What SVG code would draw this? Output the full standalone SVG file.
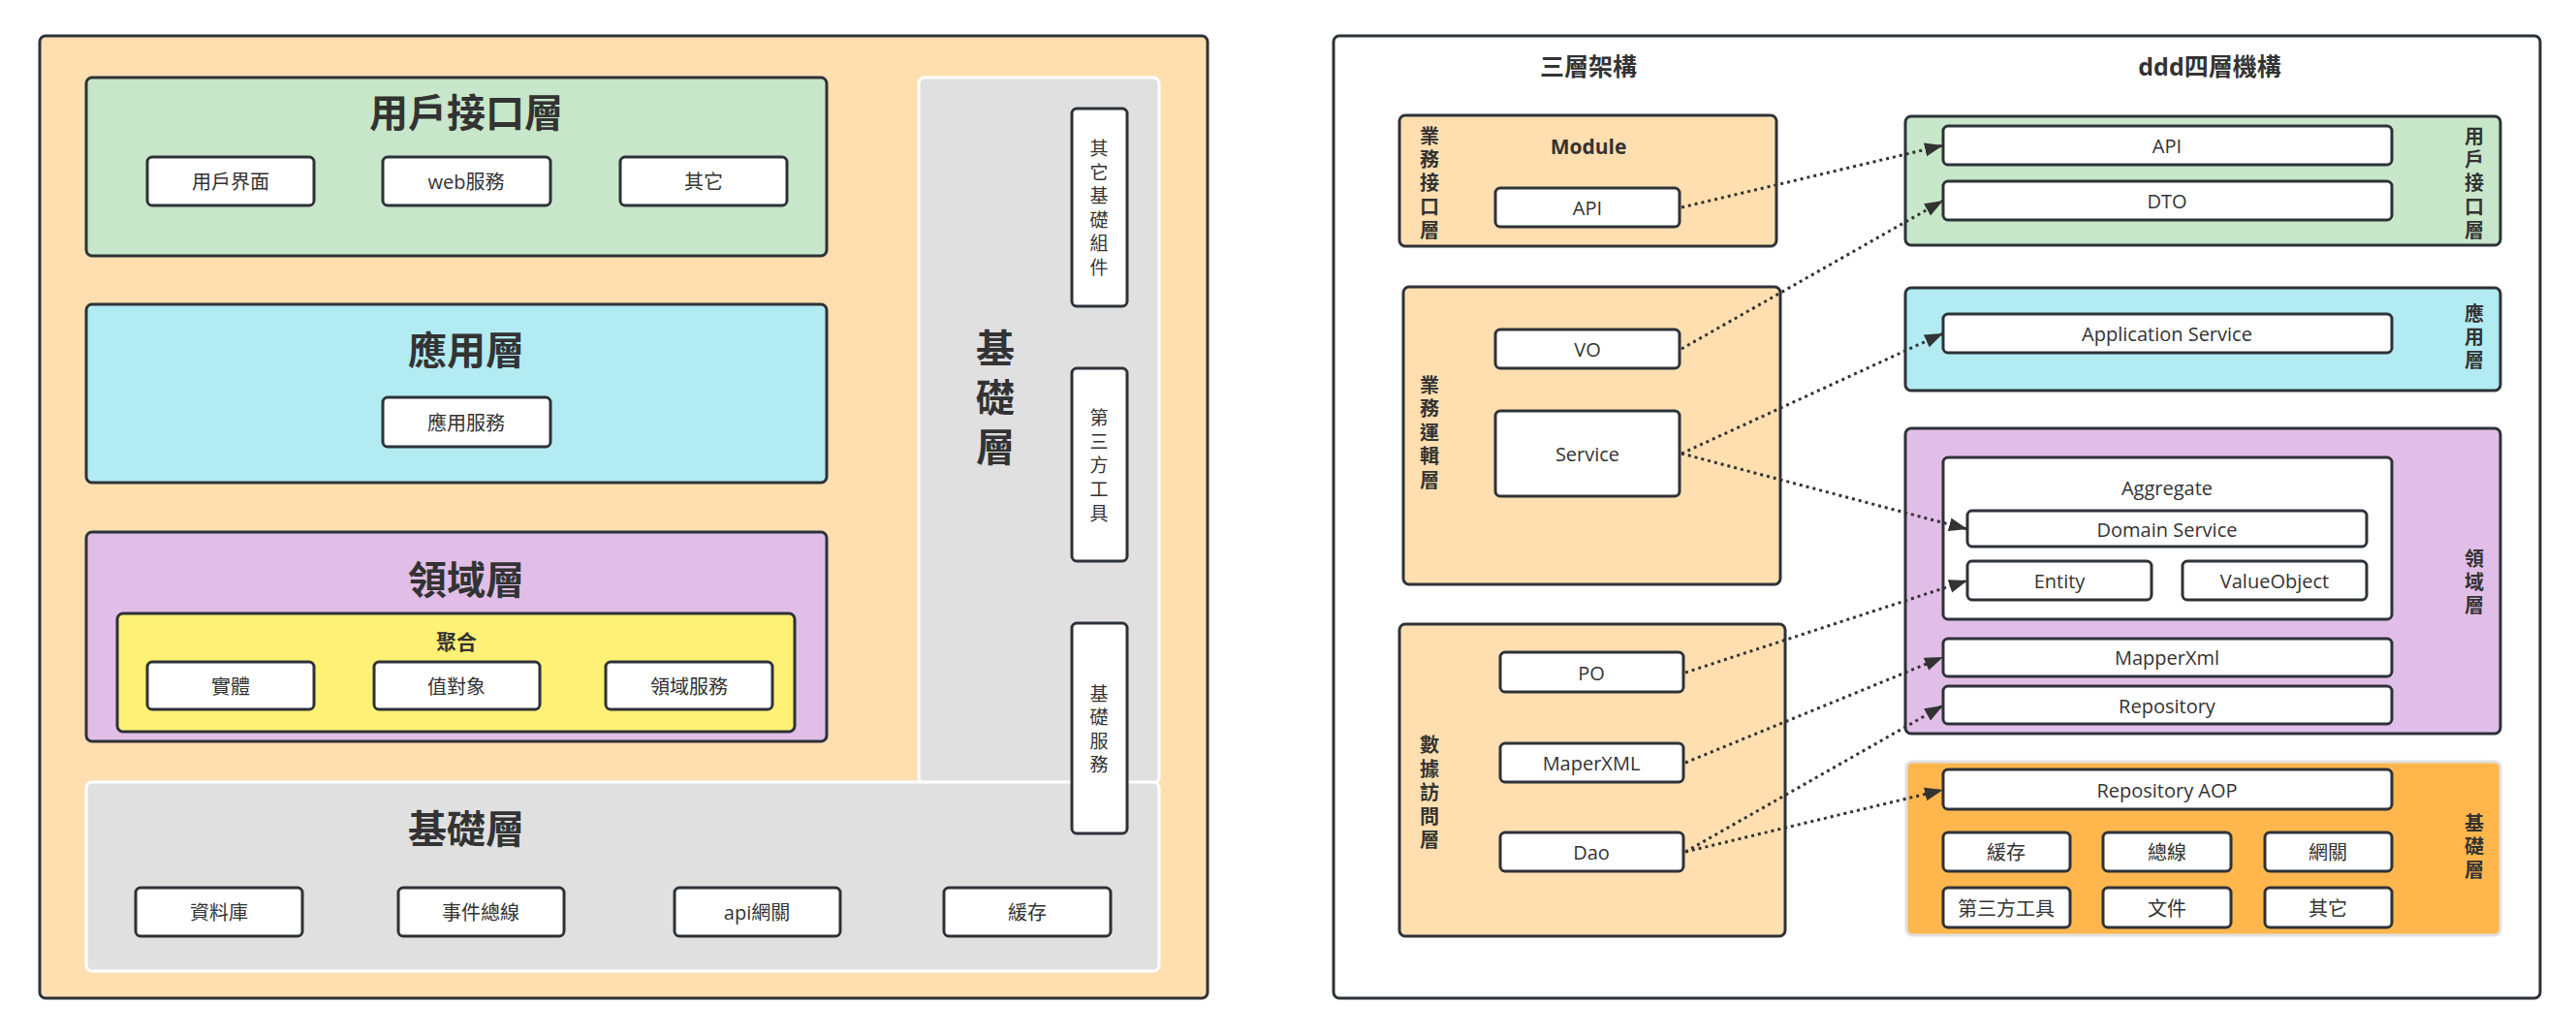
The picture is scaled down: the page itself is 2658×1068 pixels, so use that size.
<svg xmlns="http://www.w3.org/2000/svg" width="2658" height="1068" viewBox="0 0 2658 1068">
<defs>
<style>
text{font-family:"Open Sans","Noto Sans CJK TC","Noto Sans CJK SC",sans-serif;fill:#333;text-anchor:middle;dominant-baseline:central}
.box{stroke:#2d3238;stroke-width:3}
.btn{fill:#fff;stroke:#2d3238;stroke-width:3}
.t{font-size:20px}
.h1{font-size:40px;font-weight:bold}
.h2{font-size:25px;font-weight:bold}
.vb{font-size:20px;font-weight:bold}
.vs{font-size:19px}
.con{fill:none;stroke:#333;stroke-width:3;stroke-dasharray:3 4;marker-end:url(#arr)}
</style>
<marker id="arr" markerWidth="20" markerHeight="16" refX="19" refY="8" orient="auto" markerUnits="userSpaceOnUse">
<path d="M0,1 L19,8 L0,15 Z" fill="#333"/>
</marker>
</defs>
<rect width="2658" height="1068" fill="#fff"/>

<!-- LEFT PANEL -->
<g id="left-panel">
<rect x="41" y="37" width="1205" height="993" rx="6" fill="#ffdfb0" class="box"/>
</g>
<g id="ui-layer">
<rect x="89" y="80" width="764" height="184" rx="6" fill="#c8e6c9" class="box"/>
<text x="481" y="115" class="h1">用戶接口層</text>
</g>
<g id="ui-user"><rect x="152" y="162" width="172" height="50" rx="5" class="btn"/><text x="238" y="187" class="t">用戶界面</text></g>
<g id="ui-web"><rect x="395" y="162" width="173" height="50" rx="5" class="btn"/><text x="481" y="187" class="t">web服務</text></g>
<g id="ui-other"><rect x="640" y="162" width="172" height="50" rx="5" class="btn"/><text x="726" y="187" class="t">其它</text></g>

<g id="app-layer">
<rect x="89" y="314" width="764" height="184" rx="6" fill="#b2ebf2" class="box"/>
<text x="481" y="360" class="h1">應用層</text>
</g>
<g id="app-service"><rect x="395" y="410" width="173" height="51" rx="5" class="btn"/><text x="481" y="436" class="t">應用服務</text></g>

<g id="domain-layer">
<rect x="89" y="549" width="764" height="216" rx="6" fill="#e1bee7" class="box"/>
<text x="481" y="597" class="h1">領域層</text>
</g>
<g id="aggregate">
<rect x="121" y="633" width="699" height="122" rx="6" fill="#fff176" class="box"/>
<text x="471" y="662" font-size="21" font-weight="bold">聚合</text>
</g>
<g id="entity"><rect x="152" y="683" width="172" height="49" rx="5" class="btn"/><text x="238" y="708" class="t">實體</text></g>
<g id="value-object"><rect x="386" y="683" width="171" height="49" rx="5" class="btn"/><text x="471" y="708" class="t">值對象</text></g>
<g id="domain-service"><rect x="625" y="683" width="172" height="49" rx="5" class="btn"/><text x="711" y="708" class="t">領域服務</text></g>

<g id="infra-column">
<rect x="948" y="80" width="248" height="728" rx="6" fill="#e0e0e0" stroke="#fff" stroke-width="3"/>
<text class="h1"><tspan x="1027" y="358">基</tspan><tspan x="1027" y="409">礎</tspan><tspan x="1027" y="460">層</tspan></text>
</g>
<g id="infra-layer">
<rect x="89" y="807" width="1107" height="195" rx="6" fill="#e0e0e0" stroke="#fff" stroke-width="3"/>
<text x="481" y="854" class="h1">基礎層</text>
</g>
<g id="infra-other"><rect x="1106" y="112" width="57" height="204" rx="5" class="btn"/>
<text class="vs"><tspan x="1134" y="153">其</tspan><tspan x="1134" y="178">它</tspan><tspan x="1134" y="202">基</tspan><tspan x="1134" y="227">礎</tspan><tspan x="1134" y="251">組</tspan><tspan x="1134" y="276">件</tspan></text></g>
<g id="infra-third"><rect x="1106" y="380" width="57" height="199" rx="5" class="btn"/>
<text class="vs"><tspan x="1134" y="431">第</tspan><tspan x="1134" y="456">三</tspan><tspan x="1134" y="480">方</tspan><tspan x="1134" y="505">工</tspan><tspan x="1134" y="530">具</tspan></text></g>
<g id="infra-base"><rect x="1106" y="643" width="57" height="217" rx="5" class="btn"/>
<text class="vs"><tspan x="1134" y="716">基</tspan><tspan x="1134" y="740">礎</tspan><tspan x="1134" y="765">服</tspan><tspan x="1134" y="789">務</tspan></text></g>
<g id="infra-db"><rect x="140" y="916" width="172" height="50" rx="5" class="btn"/><text x="226" y="941" class="t">資料庫</text></g>
<g id="infra-bus"><rect x="411" y="916" width="171" height="50" rx="5" class="btn"/><text x="496" y="941" class="t">事件總線</text></g>
<g id="infra-gw"><rect x="696" y="916" width="171" height="50" rx="5" class="btn"/><text x="781" y="941" class="t">api網關</text></g>
<g id="infra-cache"><rect x="974" y="916" width="172" height="50" rx="5" class="btn"/><text x="1060" y="941" class="t">緩存</text></g>

<!-- RIGHT PANEL -->
<g id="right-panel">
<rect x="1376" y="37" width="1245" height="993" rx="6" fill="#fff" class="box"/>
<text x="1639" y="68" class="h2">三層架構</text>
<text x="2280" y="68" class="h2">ddd四層機構</text>
</g>

<g id="biz-interface">
<rect x="1444" y="119" width="389" height="135" rx="6" fill="#ffdfb0" class="box"/>
<text class="vb"><tspan x="1475" y="140">業</tspan><tspan x="1475" y="164">務</tspan><tspan x="1475" y="188">接</tspan><tspan x="1475" y="213">口</tspan><tspan x="1475" y="237">層</tspan></text>
<text x="1639" y="151" font-size="21" font-weight="bold">Module</text>
</g>
<g id="r-api"><rect x="1543" y="194" width="190" height="40" rx="5" class="btn"/><text x="1638" y="214" class="t">API</text></g>

<g id="biz-logic">
<rect x="1448" y="296" width="389" height="307" rx="6" fill="#ffdfb0" class="box"/>
<text class="vb"><tspan x="1475" y="397">業</tspan><tspan x="1475" y="421">務</tspan><tspan x="1475" y="446">運</tspan><tspan x="1475" y="470">輯</tspan><tspan x="1475" y="495">層</tspan></text>
</g>
<g id="r-vo"><rect x="1543" y="340" width="190" height="40" rx="5" class="btn"/><text x="1638" y="360" class="t">VO</text></g>
<g id="r-service"><rect x="1543" y="424" width="190" height="88" rx="5" class="btn"/><text x="1638" y="468" class="t">Service</text></g>

<g id="data-access">
<rect x="1444" y="644" width="398" height="322" rx="6" fill="#ffdfb0" class="box"/>
<text class="vb"><tspan x="1475" y="768">數</tspan><tspan x="1475" y="793">據</tspan><tspan x="1475" y="817">訪</tspan><tspan x="1475" y="842">問</tspan><tspan x="1475" y="866">層</tspan></text>
</g>
<g id="r-po"><rect x="1548" y="673" width="189" height="41" rx="5" class="btn"/><text x="1642" y="694" class="t">PO</text></g>
<g id="r-mapper"><rect x="1548" y="767" width="189" height="40" rx="5" class="btn"/><text x="1642" y="787" class="t">MaperXML</text></g>
<g id="r-dao"><rect x="1548" y="859" width="189" height="40" rx="5" class="btn"/><text x="1642" y="879" class="t">Dao</text></g>

<g id="d-ui">
<rect x="1966" y="120" width="614" height="133" rx="6" fill="#c8e6c9" class="box"/>
<text class="vb"><tspan x="2553" y="140">用</tspan><tspan x="2553" y="164">戶</tspan><tspan x="2553" y="188">接</tspan><tspan x="2553" y="213">口</tspan><tspan x="2553" y="237">層</tspan></text>
</g>
<g id="d-api"><rect x="2005" y="130" width="463" height="40" rx="5" class="btn"/><text x="2236" y="150" class="t">API</text></g>
<g id="d-dto"><rect x="2005" y="187" width="463" height="40" rx="5" class="btn"/><text x="2236" y="207" class="t">DTO</text></g>

<g id="d-app">
<rect x="1966" y="297" width="614" height="106" rx="6" fill="#b2ebf2" class="box"/>
<text class="vb"><tspan x="2553" y="323">應</tspan><tspan x="2553" y="347">用</tspan><tspan x="2553" y="371">層</tspan></text>
</g>
<g id="d-appservice"><rect x="2005" y="324" width="463" height="40" rx="5" class="btn"/><text x="2236" y="344" class="t">Application Service</text></g>

<g id="d-domain">
<rect x="1966" y="442" width="614" height="315" rx="6" fill="#e1bee7" class="box"/>
<text class="vb"><tspan x="2553" y="576">領</tspan><tspan x="2553" y="600">域</tspan><tspan x="2553" y="624">層</tspan></text>
</g>
<g id="d-aggregate"><rect x="2005" y="472" width="463" height="167" rx="5" class="btn"/><text x="2236" y="503" class="t">Aggregate</text></g>
<g id="d-domainservice"><rect x="2030" y="527" width="412" height="37" rx="5" class="btn"/><text x="2236" y="546" class="t">Domain Service</text></g>
<g id="d-entity"><rect x="2030" y="579" width="190" height="40" rx="5" class="btn"/><text x="2125" y="599" class="t">Entity</text></g>
<g id="d-valueobject"><rect x="2252" y="579" width="190" height="40" rx="5" class="btn"/><text x="2347" y="599" class="t">ValueObject</text></g>
<g id="d-mapperxml"><rect x="2005" y="659" width="463" height="39" rx="5" class="btn"/><text x="2236" y="678" class="t">MapperXml</text></g>
<g id="d-repository"><rect x="2005" y="708" width="463" height="39" rx="5" class="btn"/><text x="2236" y="728" class="t">Repository</text></g>

<g id="d-infra">
<rect x="1967" y="786" width="613" height="179" rx="6" fill="#ffb74d" stroke="#e0e0e0" stroke-width="3"/>
<text class="vb"><tspan x="2553" y="849">基</tspan><tspan x="2553" y="873">礎</tspan><tspan x="2553" y="897">層</tspan></text>
</g>
<g id="d-repoaop"><rect x="2005" y="794" width="463" height="41" rx="5" class="btn"/><text x="2236" y="815" class="t">Repository AOP</text></g>
<g id="d-cache"><rect x="2005" y="859" width="131" height="40" rx="5" class="btn"/><text x="2070" y="879" class="t">緩存</text></g>
<g id="d-bus"><rect x="2170" y="859" width="132" height="40" rx="5" class="btn"/><text x="2236" y="879" class="t">總線</text></g>
<g id="d-gw"><rect x="2337" y="859" width="131" height="40" rx="5" class="btn"/><text x="2402" y="879" class="t">網關</text></g>
<g id="d-third"><rect x="2005" y="916" width="131" height="41" rx="5" class="btn"/><text x="2070" y="937" class="t">第三方工具</text></g>
<g id="d-file"><rect x="2170" y="916" width="132" height="41" rx="5" class="btn"/><text x="2236" y="937" class="t">文件</text></g>
<g id="d-other"><rect x="2337" y="916" width="131" height="41" rx="5" class="btn"/><text x="2402" y="937" class="t">其它</text></g>

<g id="connectors">
<line x1="1735" y1="214" x2="2005" y2="150" class="con"/>
<line x1="1735" y1="360" x2="2005" y2="207" class="con"/>
<line x1="1735" y1="468" x2="2005" y2="344" class="con"/>
<line x1="1735" y1="468" x2="2030" y2="546" class="con"/>
<line x1="1739" y1="694" x2="2030" y2="599" class="con"/>
<line x1="1739" y1="787" x2="2005" y2="678" class="con"/>
<line x1="1739" y1="879" x2="2005" y2="728" class="con"/>
<line x1="1739" y1="879" x2="2005" y2="815" class="con"/>
</g>
</svg>
